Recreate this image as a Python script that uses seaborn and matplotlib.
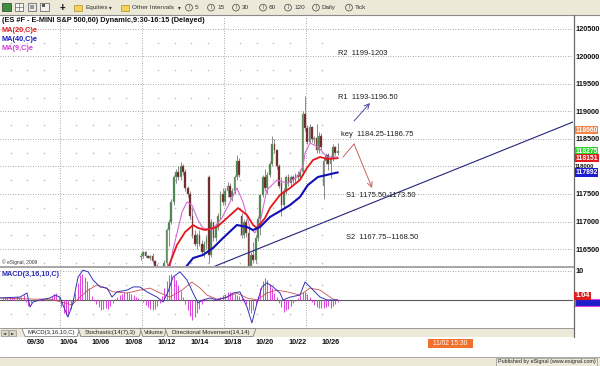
import matplotlib
matplotlib.use("Agg")
import matplotlib.pyplot as plt
import matplotlib.transforms as mtransforms
from matplotlib.patches import Rectangle, Polygon, Circle
import numpy as np
import pandas as pd
import seaborn as sns

# ---------------- data ----------------
# hourly bars, index 0 = first bar (9:30) of 10/04; 7 bars per session
bar_index = list(range(34, 119))
open_px = [116350, 116380, 116440, 116380, 116340, 116370, 116280, 116200, 116100, 116000,
           116050, 116250, 116850, 117000, 117350, 117800, 117900, 117800, 118000, 117900,
           117600, 117500, 117100, 116750, 116600, 116750, 116600, 116450, 116600, 117800,
           116400, 117000, 116700, 116900, 117100, 117500, 117350, 117550, 117650, 117450,
           117550, 117800, 118100, 117100, 116750, 117000, 116800, 116200, 116400, 116300,
           116700, 117050, 117480, 117800, 117600, 117850, 118050, 118400, 118300, 118000,
           117700, 117300, 117550, 117800, 117700, 117800, 117750, 117850, 117800, 117900,
           118950, 118700, 118450, 118720, 118500, 118520, 118300, 118550, 117650, 118100,
           118200, 118050, 118150, 118350, 118250]
high_px = [116420, 116460, 116470, 116400, 116390, 116420, 116300, 116230, 116150, 116100,
           116300, 116880, 117050, 117400, 117850, 117950, 118000, 118080, 118050, 117950,
           117650, 117550, 117250, 116850, 116800, 116850, 116660, 116650, 116750, 117850,
           117050, 117000, 116950, 117150, 117550, 117600, 117600, 117720, 117700, 117600,
           117850, 118210, 118150, 117150, 117050, 117050, 116880, 116450, 116620, 116750,
           117100, 117500, 117850, 117950, 117900, 118100, 118560, 118500, 118320, 118050,
           117800, 117600, 117850, 117870, 117850, 117850, 117880, 117920, 117950, 119000,
           119280, 118750, 118780, 118740, 118560, 118780, 118620, 118600, 118150, 118250,
           118250, 118200, 118400, 118380, 118420]
low_px = [116300, 116330, 116360, 116330, 116300, 116250, 116150, 116050, 115950, 115900,
          116000, 116200, 116550, 116950, 117300, 117700, 117750, 117750, 117850, 117550,
          117450, 117050, 116700, 116550, 116500, 116550, 116390, 116350, 116500, 116250,
          116350, 116650, 116650, 116850, 117050, 117300, 117300, 117450, 117400, 117380,
          117500, 117750, 117800, 116700, 116700, 116720, 116100, 116100, 116250, 116250,
          116650, 116750, 117450, 117550, 117500, 117800, 118000, 118250, 117950, 117600,
          117100, 117250, 117500, 117650, 117650, 117700, 117700, 117750, 117780, 117850,
          118650, 118400, 118420, 118450, 118400, 118250, 118250, 118300, 117400, 118050,
          117930, 117790, 118100, 118200, 118200]
close_px = [116380, 116440, 116380, 116340, 116370, 116280, 116200, 116100, 116000, 116050,
            116250, 116850, 117000, 117350, 117800, 117900, 117800, 118000, 117900, 117600,
            117500, 117100, 116750, 116600, 116750, 116600, 116450, 116600, 116700, 116400,
            117000, 116700, 116900, 117100, 117500, 117350, 117550, 117650, 117450, 117550,
            117800, 118100, 117850, 116750, 117000, 116800, 116200, 116400, 116300, 116700,
            117050, 117480, 117800, 117600, 117850, 118050, 118400, 118300, 118000, 117650,
            117300, 117550, 117800, 117700, 117800, 117750, 117850, 117800, 117900, 118950,
            118700, 118450, 118720, 118500, 118520, 118300, 118550, 118350, 118100, 118200,
            118050, 118150, 118350, 118250, 118275]

# moving averages (bar index, price)
ma9_k = [46.4, 47.7, 51.6, 53.7, 55.8, 58.4, 60.5, 64.4, 68.6, 72.1, 75.0, 77.6, 80.6, 82.7,
         84.9, 87.8, 92.1, 96.4, 100.7, 103.2, 104.1, 106.2, 109.6, 113.5, 118.1]
ma9_p = [116155, 116482, 117173, 117355, 117300, 117027, 116882, 116845, 117064, 117355, 117609,
         117355, 116882, 116791, 116991, 117573, 117754, 117700, 117809, 118000, 118245, 118427,
         118355, 118173, 118173]
ma20_k = [45.6, 49.4, 52.9, 56.3, 58.4, 61.4, 66.5, 70.8, 75.5, 79.3, 81.9, 83.6, 87.0, 89.1,
          93.4, 97.7, 101.9, 104.9, 107.5, 110.5, 113.5, 118.1]
ma20_p = [116155, 116573, 116809, 116936, 116882, 116845, 116900, 117064, 117245, 117118, 116936,
          116882, 117064, 117245, 117482, 117609, 117755, 117973, 118118, 118173, 118136, 118151]
ma40_k = [52.9, 56.3, 60.5, 64.8, 69.1, 75.0, 79.3, 81.9, 84.9, 89.1, 94.2, 97.7, 101.9, 105.3,
          109.6, 116.9, 118.1]
ma40_p = [116155, 116336, 116391, 116518, 116700, 116936, 116900, 116845, 116900, 117082, 117209,
          117300, 117445, 117664, 117809, 117882, 117892]

# MACD(3,16,10) panel
macd_k = [-26.1, -17.6, -14.6, -13.3, -12.0, -9.0, -4.8, -2.6, -0.5, 1.6, 2.9, 5.0, 7.2, 9.3,
          11.5, 13.6, 16.6, 19.6, 21.7, 23.8, 28.1, 30.7, 33.6, 36.6, 40.9, 43.5, 45.6, 47.7,
          50.7, 53.7, 56.3, 58.4, 60.5, 63.5, 66.5, 70.8, 73.3, 76.3, 79.3, 81.4, 83.6, 85.7,
          87.8, 90.4, 93.4, 94.7, 97.7, 101.9, 104.1, 106.2, 108.3, 110.5, 113.5, 116.0, 118.1]
macd_v = [0.7, 1.0, 2.4, -2.4, -0.7, 0.0, 0.7, 1.7, 1.0, -3.4, -5.9, -1.0, 7.9, 10.3,
          9.7, 6.9, 4.5, 4.1, 1.0, 2.8, 3.4, 4.5, 4.5, 2.8, 1.0, -0.7, 2.8, 7.9,
          9.7, 6.9, 2.4, -1.0, 0.0, 0.7, 0.0, 1.0, 2.4, 2.8, -2.4, -7.9, -1.0, 4.5,
          5.9, 4.5, 2.4, 0.0, 1.0, 1.7, 6.2, 4.5, 2.8, 1.0, 0.0, 0.0, 0.0]
signal_k = [-26.1, -12.0, -4.8, 1.6, 4.6, 8.0, 11.5, 15.3, 17.9, 22.1, 28.1, 33.6, 37.9, 42.2,
            46.4, 51.6, 55.8, 59.3, 62.2, 66.5, 70.8, 75.0, 79.3, 83.6, 87.8, 92.1, 96.4,
            101.9, 106.2, 110.5, 113.5, 116.0, 118.1]
signal_v = [0.7, 0.3, 0.3, -1.0, -1.7, 1.0, 3.4, 5.2, 4.5, 2.8, 2.4, 3.4, 4.1, 2.4,
            1.0, 3.4, 6.2, 4.1, 1.7, 0.3, 1.0, 2.4, 0.7, 0.0, 2.4, 3.4, 2.8,
            1.7, 4.1, 3.4, 1.7, 0.3, 0.0]
hist_k = list(range(-25, 119))
hist_v = [0.8, 1.0, 1.2, 1.0, 0.8, 1.0, 1.4, 1.2, 0.9, 1.6,
          -0.8, -2.0, -1.2,
          -0.4, 0.2, 0.5, 0.3, -0.2, 0.3, 0.6, 0.4,
          1.2, 2.0, 2.4, 1.0,
          -2.5, -4.5, -5.2, -4.8, -3.2, -1.0,
          2.5, 6.0, 8.5, 9.0, 8.0, 6.5, 4.0,
          1.5, -0.5, -1.5, -2.5, -3.4, -3.0, -2.6, -3.2, -2.2, -1.0,
          0.5, 1.2, 1.8, 2.2, 2.6, 2.8, 2.4, 2.0, 1.6, 1.2, 0.8, 0.3,
          -0.8, -1.6, -2.4, -3.0, -3.4, -3.0, -2.2, -1.0,
          1.5, 4.0, 6.5, 8.5, 9.0, 8.2, 7.0, 5.0, 3.0, 1.2,
          -1.5, -3.5, -5.5, -6.9, -6.0, -4.5, -3.0, -1.5,
          -0.5, 0.3, 0.5, 0.2, -0.3, 0.4, 0.8,
          1.2, 1.8, 2.2, 2.6, 2.8, 2.5, 2.2, 1.8, 1.4, 0.8, 0.2,
          -1.5, -3.5, -4.5, -3.6, -1.5,
          1.5, 4.0, 6.5, 7.6, 7.0, 5.5, 4.0, 2.5, 1.0,
          -1.0, -2.5, -4.1, -3.6, -3.0, -2.2, -1.2, -0.4,
          0.8, 1.8, 2.8, 2.6, 2.0, 1.0,
          -0.8, -1.6, -2.4, -2.8, -2.6, -2.8, -2.4, -2.0, -2.6, -2.2, -1.5, -0.8]

price_ticks = [116500, 117000, 117500, 118000, 118500, 119000, 119500, 120000, 120500]
date_labels = ['09/30', '10/04', '10/06', '10/08', '10/12', '10/14', '10/18', '10/20', '10/22', '10/26']
date_day = [-2, 0, 2, 4, 6, 8, 10, 12, 14, 16]      # session number (0 = 10/04)
week_start_day = [-5, 0, 5, 10, 15]                 # Mondays
last_values = [("118660", 118660, '#f2854a'), ("118275", 118275, '#27d627'),
               ("118151", 118151, '#e21c1c'), ("117892", 117892, '#1c1cd0')]
trend_k = [60.0, 218.5]
trend_p = [116091, 118810]
levels = [("R2  1199-1203", 118.2, 120063), ("R1  1193-1196.50", 118.2, 119263),
          ("key  1184.25-1186.75", 119.4, 118573), ("S1  1175.50-1173.50", 121.6, 117464),
          ("S2  1167.75--1168.50", 121.6, 116718)]

# ---------------- style ----------------
sns.set_theme(style="white")
plt.rcParams['font.family'] = ['Liberation Sans', 'DejaVu Sans']
plt.rcParams['axes.facecolor'] = 'none'

W, H = 600, 366
BAR_PX = 2.343
K_LEFT = -0.5 - 60 / BAR_PX
K_RIGHT = -0.5 + 513 / BAR_PX
BEIGE = '#ece9d8'
FS = 5.3

fig = plt.figure(figsize=(6.0, 3.66), dpi=100)
fig.patch.set_facecolor('white')

# ---- window chrome (pixel coordinates) ----
ui = fig.add_axes([0, 0, 1, 1])
ui.set_xlim(0, W); ui.set_ylim(H, 0); ui.axis('off')

ui.add_patch(Rectangle((0, 0), 600, 15, fc=BEIGE, ec='none'))
ui.plot([0, 600], [15.3, 15.3], color='#8c8c8c', lw=0.8)
# toolbar icons
ui.add_patch(Rectangle((2, 3), 9, 8, fc='#3f8f3f', ec='#2a3a2a', lw=0.5))
ui.add_patch(Rectangle((15, 3), 8, 8, fc='#f7f7f7', ec='#555555', lw=0.5))
ui.plot([15, 23], [7, 7], color='#555555', lw=0.4); ui.plot([19, 19], [3, 11], color='#555555', lw=0.4)
ui.add_patch(Rectangle((28, 3), 8, 8, fc='#e8e8e8', ec='#555555', lw=0.5))
ui.add_patch(Rectangle((30, 5), 4, 4, fc='#9a9a9a', ec='none'))
ui.add_patch(Rectangle((40, 3), 9, 8, fc='#f0f0f0', ec='#555555', lw=0.5))
ui.add_patch(Rectangle((41.5, 4), 3, 3, fc='#5a5a5a', ec='none'))
ui.text(62, 7.6, '+', fontsize=7, weight='bold', ha='center', va='center', color='#111111')
for fx0 in (74, 121):
    ui.add_patch(Rectangle((fx0, 4.5), 8, 6.5, fc='#f2d35c', ec='#b08d2a', lw=0.5))
ui.text(85, 7.8, 'Equities', fontsize=4.6, va='center', color='#333333')
ui.text(109, 7.8, '▾', fontsize=4, va='center', color='#333333', family='DejaVu Sans')
ui.text(132, 7.8, 'Other Intervals', fontsize=4.6, va='center', color='#333333')
ui.text(178, 7.8, '▾', fontsize=4, va='center', color='#333333', family='DejaVu Sans')
for cx, lab in [(189, '5'), (211, '15'), (236, '30'), (263, '60'), (288, '120'), (316, 'Daily'), (349, 'Tick')]:
    ui.add_patch(Circle((cx, 7.6), 3.4, fc='none', ec='#444444', lw=0.5))
    ui.text(cx, 7.8, 'I', fontsize=3.6, ha='center', va='center', color='#444444')
    ui.text(cx + 6, 7.8, lab, fontsize=4.6, va='center', color='#333333')

# header texts
ui.text(2, 20.7, '(ES #F - E-MINI S&P 500,60) Dynamic,9:30-16:15 (Delayed)', fontsize=FS,
        weight='bold', va='center', color='#111111')
ui.text(2, 30, 'MA(20,C)e', fontsize=FS, weight='bold', va='center', color='#e01a1a')
ui.text(2, 39.5, 'MA(40,C)e', fontsize=FS, weight='bold', va='center', color='#1a1ac0')
ui.text(2, 48, 'MA(9,C)e', fontsize=FS, weight='bold', va='center', color='#d43cd4')
ui.text(2, 262.5, '© eSignal, 2009', fontsize=3.5, va='center', color='#333333')

# panel separators and right axis line
ui.add_patch(Rectangle((0, 266), 573.5, 2, fc='#a8a8a8', ec='none'))
ui.add_patch(Rectangle((0, 328), 573.5, 9, fc=BEIGE, ec='none'))
ui.plot([0, 573.5], [328, 328], color='#8c8c8c', lw=0.6)
ui.plot([573.5, 573.5], [15, 337], color='#6a6a6a', lw=0.9)
# tabs
for x0, ch in [(1, '◄'), (9, '►')]:
    ui.add_patch(Rectangle((x0, 329.5), 7, 6.5, fc='#dcd8c8', ec='#808080', lw=0.4))
    ui.text(x0 + 3.5, 332.9, ch, fontsize=3.0, ha='center', va='center', color='#222222',
            family='DejaVu Sans')
tabs = [("MACD(3,16,10,C)", 22, 80, True), ("Stochastic(14(7),3)", 78, 142, False),
        ("Volume", 140, 167, False), ("Directional Movement(14,14)", 165, 256, False)]
for lab, x0, x1, active in tabs:
    ui.add_patch(Polygon([(x0, 328.3), (x0 + 3, 336.6), (x1 - 3, 336.6), (x1, 328.3)], closed=True,
                         fc='white' if active else BEIGE, ec='#707070', lw=0.5))
    ui.text((x0 + x1) / 2, 332.6, lab, fontsize=4.3, ha='center', va='center', color='#222222')
# cursor date box
ui.add_patch(Rectangle((428, 338.5), 45, 9, fc='#f0702c', ec='none'))
ui.text(450.5, 343.2, '11/02 15:30', fontsize=4.8, ha='center', va='center', color='white')
# status bar
ui.add_patch(Rectangle((0, 357), 600, 9, fc=BEIGE, ec='none'))
ui.plot([0, 600], [357, 357], color='#a0a0a0', lw=0.6)
ui.add_patch(Rectangle((496, 358.2), 101, 7.3, fc='none', ec='#909090', lw=0.5))
ui.text(546.5, 362, 'Published by eSignal (www.esignal.com)', fontsize=3.9, ha='center',
        va='center', color='#222222')

# ---------------- price panel ----------------
ax = fig.add_axes([0, 1 - 266 / H, 573 / W, 250 / H])
ax.set_xlim(K_LEFT, K_RIGHT)
ax.set_ylim(116191, 120736)
for s in ax.spines.values():
    s.set_visible(False)
ax.set_xticks([])
ax.yaxis.tick_right()
ax.set_yticks(price_ticks)
ax.set_yticklabels([str(v) for v in price_ticks], fontsize=FS, weight='bold', color='#111111')
ax.tick_params(axis='y', length=0, pad=1.5)
ax.grid(axis='y', ls=(0, (1, 2)), color='#8a8a8a', lw=0.6)
ax.grid(axis='x', visible=False)
for d in week_start_day:
    ax.axvline(7 * d - 0.5, ls=(0, (1, 2)), color='#8a8a8a', lw=0.6)
# faint "+" sub-grid
plus_k = [7 * d - 0.5 for d in range(-4, 17) if d not in week_start_day]
plus_p = [p + 250 for p in [116000] + price_ticks]
pk, pp = np.meshgrid(plus_k, plus_p)
ax.scatter(pk.ravel(), pp.ravel(), marker='+', s=4, color='#c4c4c4', linewidths=0.4, zorder=1)

# candles
df = pd.DataFrame({'k': bar_index, 'o': open_px, 'h': high_px, 'l': low_px, 'c': close_px})
up = df['c'] >= df['o']
ax.vlines(df['k'], df['l'], df['h'], color='#8a8a8a', lw=0.7, zorder=3)
body_lo = df[['o', 'c']].min(axis=1)
body_h = (df['c'] - df['o']).abs().clip(lower=18)
ax.bar(df['k'][up], body_h[up], bottom=body_lo[up], width=0.75, color='#3f803f',
       edgecolor='#9aa89a', linewidth=0.3, zorder=4)
ax.bar(df['k'][~up], body_h[~up], bottom=body_lo[~up], width=0.75, color='#6e1c1c',
       edgecolor='#8a6a6a', linewidth=0.3, zorder=4)

# moving averages
sns.lineplot(x=ma9_k, y=ma9_p, ax=ax, color='#d66ad6', lw=0.8, sort=False, zorder=5)
sns.lineplot(x=ma20_k, y=ma20_p, ax=ax, color='#e3171a', lw=1.3, sort=False, zorder=6)
sns.lineplot(x=ma40_k, y=ma40_p, ax=ax, color='#1010b4', lw=1.5, sort=False, zorder=6)

# trend line
ax.plot(trend_k, trend_p, color='#24247a', lw=0.8, zorder=5)

# level notes and arrows
for txt, kx, py in levels:
    ax.text(kx, py, txt, fontsize=5.4, ha='left', va='center', color='#1c1c1c', zorder=7)
ax.annotate('', xy=(131.8, 119154), xytext=(125.0, 118827),
            arrowprops=dict(arrowstyle='->,head_length=0.6,head_width=0.3', mutation_scale=6,
                            color='#4a4aa8', lw=0.7, shrinkA=0, shrinkB=0))
ax.plot([120.3, 125.0], [118173, 118409], color='#c86262', lw=0.7, zorder=6)
ax.annotate('', xy=(132.7, 117609), xytext=(125.0, 118409),
            arrowprops=dict(arrowstyle='->,head_length=0.6,head_width=0.3', mutation_scale=6,
                            color='#c86262', lw=0.7, shrinkA=0, shrinkB=0))

# last value boxes on the price scale (118000 tick hidden behind them, as in the original)
btr = mtransforms.blended_transform_factory(ax.transAxes, ax.transData)
ax.get_yticklabels()[price_ticks.index(118000)].set_fontsize(4.2)
for txt, val, col in last_values:
    ax.text(1.004, val, txt, transform=btr, fontsize=4.9, ha='left', va='center', color='white',
            weight='bold', clip_on=False, zorder=10,
            bbox=dict(boxstyle='square,pad=0.1', fc=col, ec='none'))

# ---------------- MACD panel ----------------
ax2 = fig.add_axes([0, 1 - 328 / H, 573 / W, 60 / H])
ax2.set_xlim(K_LEFT, K_RIGHT)
ax2.set_ylim(-9.66, 11.03)
for s in ax2.spines.values():
    s.set_visible(False)
ax2.yaxis.tick_right()
ax2.set_yticks([10])
ax2.set_yticklabels(['10'], fontsize=FS, weight='bold', color='#111111')
ax2.tick_params(axis='y', length=0, pad=1.5)
ax2.set_xticks([7 * d + 3 for d in date_day])
ax2.set_xticklabels(date_labels, fontsize=5.2, weight='bold', color='#111111')
ax2.tick_params(axis='x', length=0, pad=8.2)
ax2.grid(False)
ax2.axhline(10, ls=(0, (1, 2)), color='#8a8a8a', lw=0.6)
for d in week_start_day:
    ax2.axvline(7 * d - 0.5, ls=(0, (1, 2)), color='#8a8a8a', lw=0.6)
mk, mp = np.meshgrid(plus_k, [-5, 5])
ax2.scatter(mk.ravel(), mp.ravel(), marker='+', s=4, color='#c4c4c4', linewidths=0.4, zorder=1)
ax2.axhline(0, color='#5a5a5a', lw=0.8, zorder=2)
ax2.vlines(hist_k, 0, hist_v, color='#e046e0', lw=0.75, zorder=3)
sns.lineplot(x=signal_k, y=signal_v, ax=ax2, color='#c85050', lw=0.6, sort=False, zorder=4)
sns.lineplot(x=macd_k, y=macd_v, ax=ax2, color='#3434b4', lw=0.7, sort=False, zorder=5)
ax2.text(0.003, 0.9, 'MACD(3,16,10,C)', transform=ax2.transAxes, fontsize=5.2, weight='bold',
         color='#2a2ab8', ha='left', va='center')
btr2 = mtransforms.blended_transform_factory(ax2.transAxes, ax2.transData)
ax2.text(1.004, 1.4, '1.04', transform=btr2, fontsize=FS, ha='left', va='center', color='white',
         weight='bold', clip_on=False, zorder=10,
         bbox=dict(boxstyle='square,pad=0.12', fc='#e01c1c', ec='none'))
ax2.add_patch(Rectangle((1.003, -2.0), 0.045, 2.3, transform=btr2, fc='#2020c8', ec='#e040e0',
                        lw=0.8, clip_on=False, zorder=9))

fig.savefig('out.png', dpi=100, facecolor='white')
